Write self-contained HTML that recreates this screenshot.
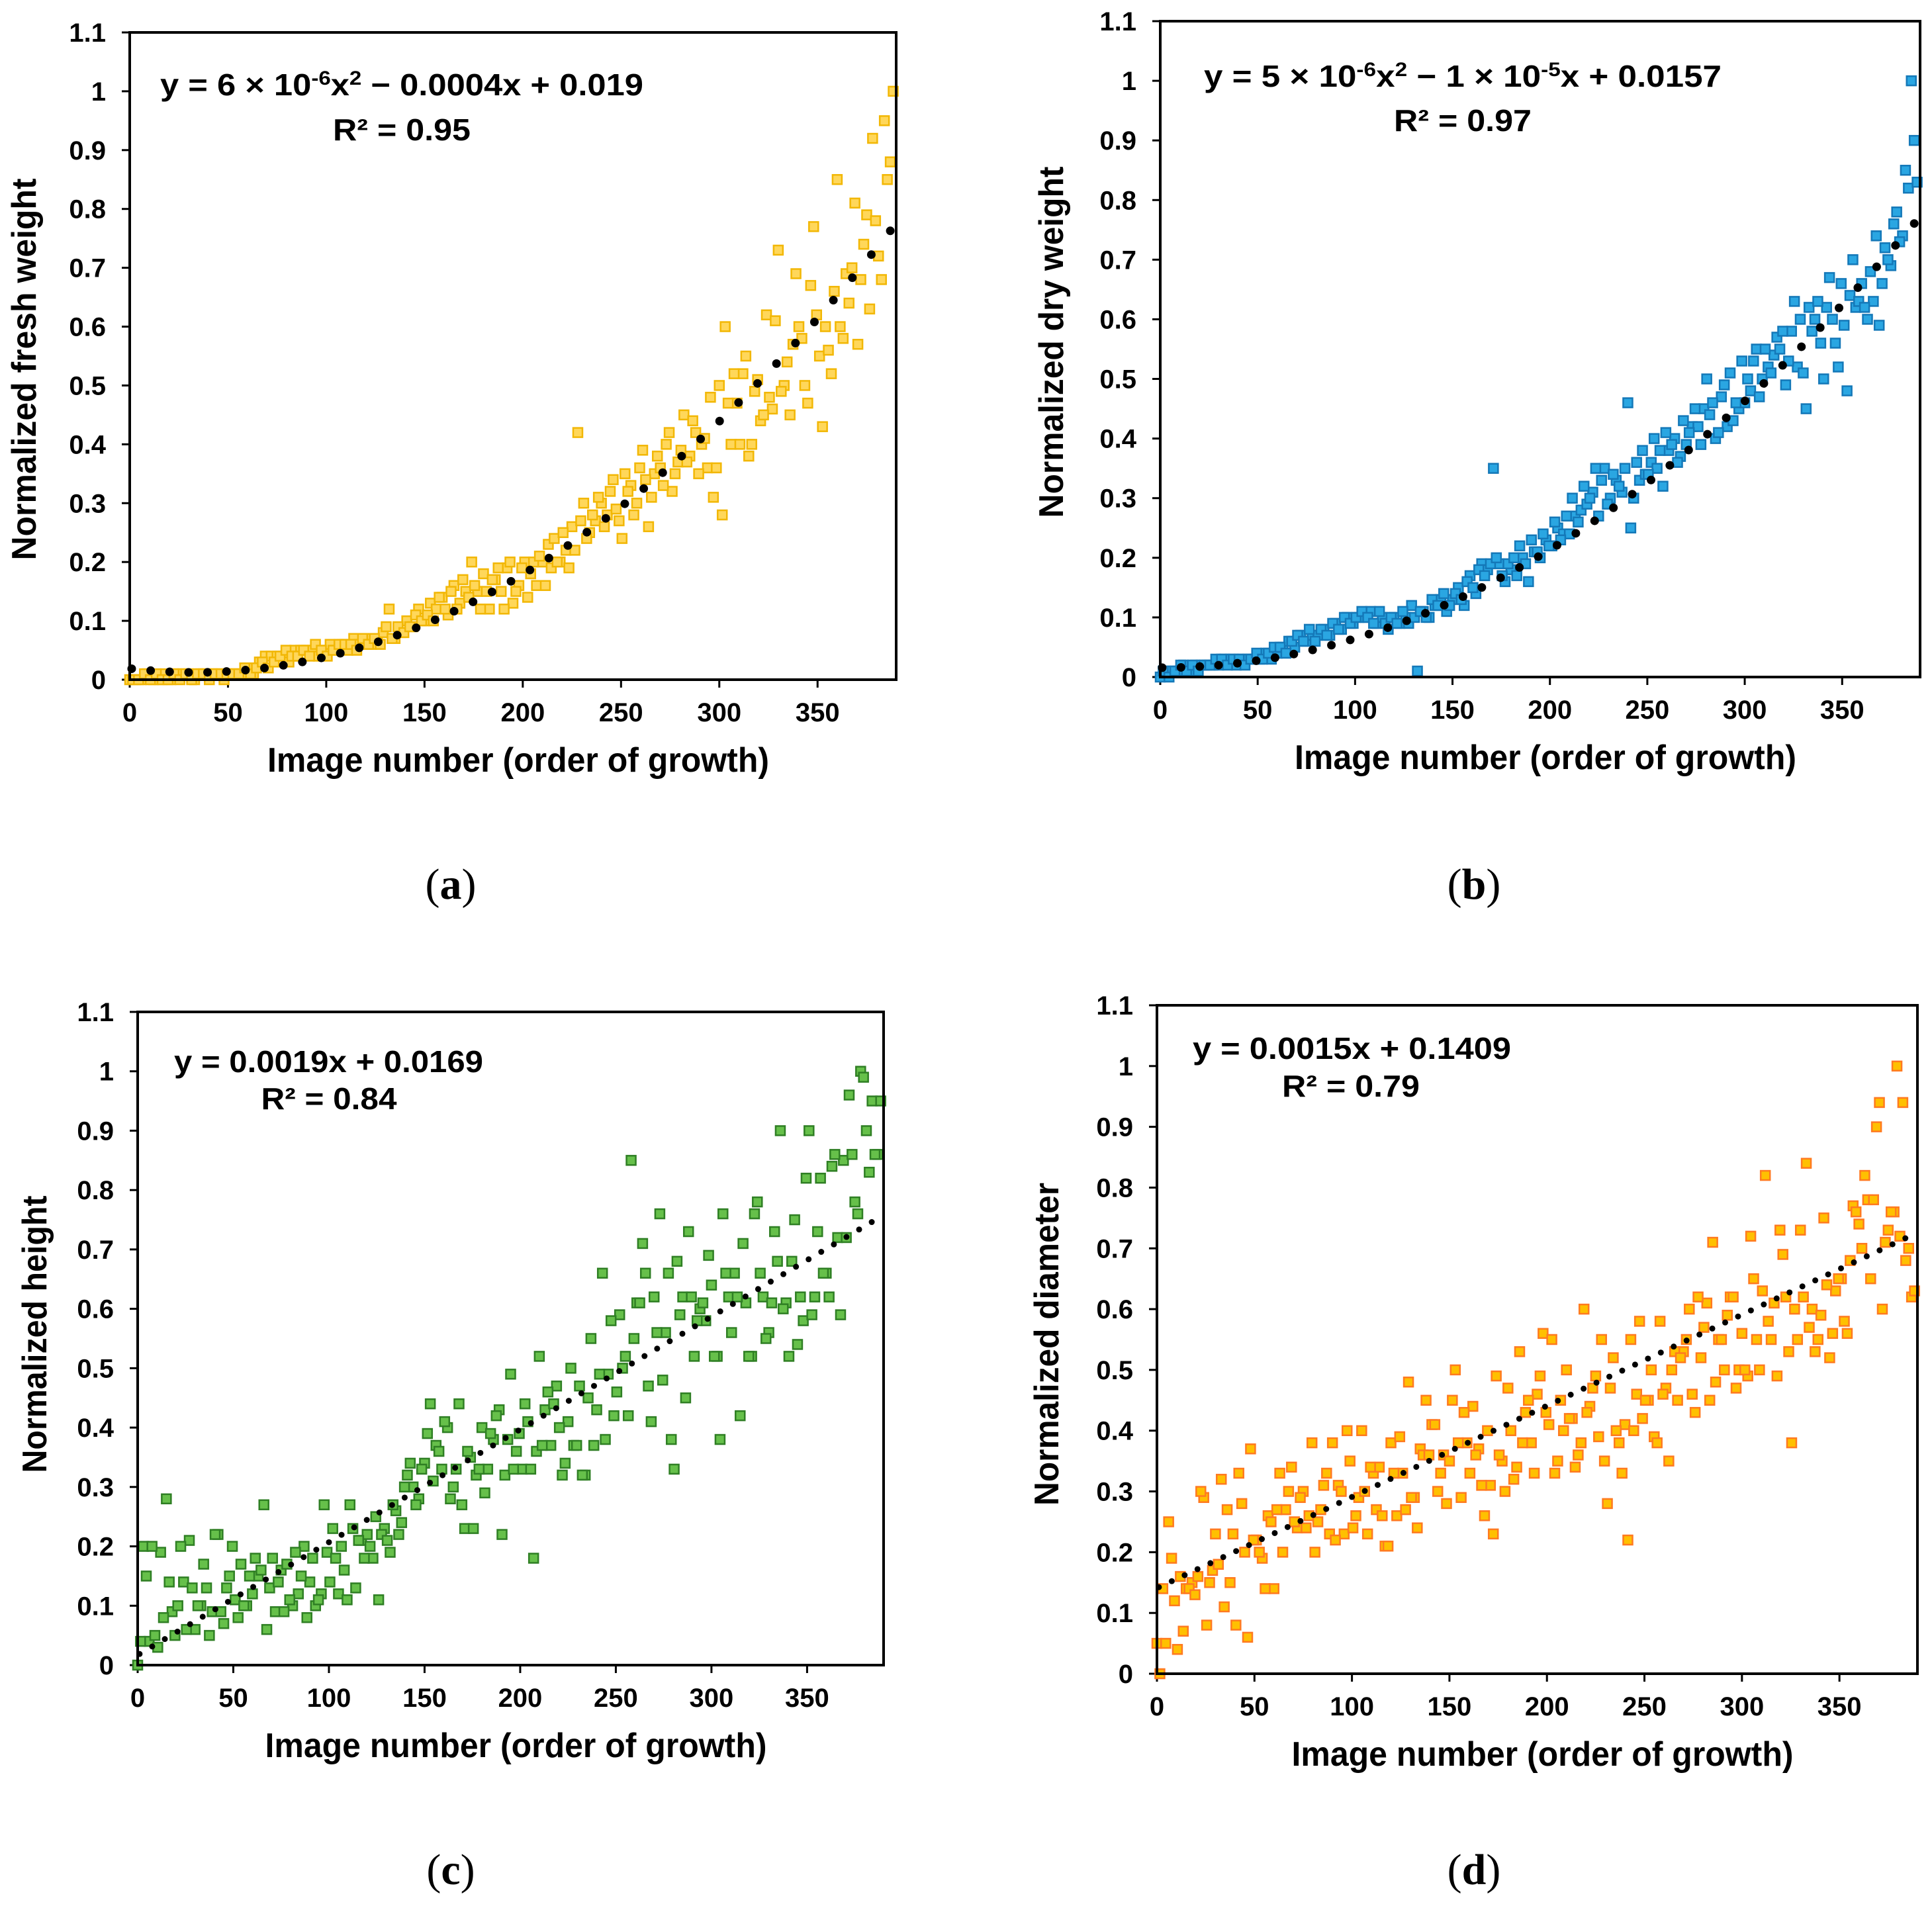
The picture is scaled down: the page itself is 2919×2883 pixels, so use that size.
<!DOCTYPE html>
<html>
<head>
<meta charset="utf-8">
<style>
  html, body { margin: 0; padding: 0; background: #ffffff; }
  svg { display: block; }
  text { font-family: "Liberation Sans", Arial, sans-serif; }
</style>
</head>
<body>
<svg id="fig" width="2919" height="2883" viewBox="0 0 2919 2883" xmlns="http://www.w3.org/2000/svg">
  <rect x="0" y="0" width="2919" height="2883" fill="#ffffff"/>
  <text x="242" y="144" font-size="46" font-weight="bold" textLength="730" lengthAdjust="spacingAndGlyphs">y = 6 × 10<tspan baseline-shift="super" font-size="30">-6</tspan>x<tspan baseline-shift="super" font-size="30">2</tspan> − 0.0004x + 0.019</text>
  <text x="607" y="212" font-size="46" font-weight="bold" text-anchor="middle" textLength="208" lengthAdjust="spacingAndGlyphs">R² = 0.95</text>
  <text x="1819" y="131" font-size="46" font-weight="bold" textLength="782" lengthAdjust="spacingAndGlyphs">y = 5 × 10<tspan baseline-shift="super" font-size="30">-6</tspan>x<tspan baseline-shift="super" font-size="30">2</tspan> − 1 × 10<tspan baseline-shift="super" font-size="30">-5</tspan>x + 0.0157</text>
  <text x="2210" y="198" font-size="46" font-weight="bold" text-anchor="middle" textLength="208" lengthAdjust="spacingAndGlyphs">R² = 0.97</text>
  <text x="263" y="1620" font-size="46" font-weight="bold" textLength="467" lengthAdjust="spacingAndGlyphs">y = 0.0019x + 0.0169</text>
  <text x="497" y="1676" font-size="46" font-weight="bold" text-anchor="middle" textLength="205" lengthAdjust="spacingAndGlyphs">R² = 0.84</text>
  <text x="1802" y="1600" font-size="46" font-weight="bold" textLength="481" lengthAdjust="spacingAndGlyphs">y = 0.0015x + 0.1409</text>
  <text x="2041" y="1657" font-size="46" font-weight="bold" text-anchor="middle" textLength="208" lengthAdjust="spacingAndGlyphs">R² = 0.79</text>
  <text x="681" y="1358" font-size="66" text-anchor="middle" style="font-family:'Liberation Serif',serif">(<tspan font-weight="bold">a</tspan>)</text>
  <text x="2227" y="1358" font-size="66" text-anchor="middle" style="font-family:'Liberation Serif',serif">(<tspan font-weight="bold">b</tspan>)</text>
  <text x="681" y="2847" font-size="66" text-anchor="middle" style="font-family:'Liberation Serif',serif">(<tspan font-weight="bold">c</tspan>)</text>
  <text x="2227" y="2847" font-size="66" text-anchor="middle" style="font-family:'Liberation Serif',serif">(<tspan font-weight="bold">d</tspan>)</text>
</svg>
<script>
const imageNumbers = [0,3,6,9,12,15,18,21,24,27,30,33,36,39,42,45,48,51,54,57,60,63,66,69,72,75,78,81,84,87,90,93,96,99,102,105,108,111,114,117,120,123,126,129,132,135,138,141,144,147,150,153,156,159,162,165,168,171,174,177,180,183,186,189,192,195,198,201,204,207,210,213,216,219,222,225,228,231,234,237,240,243,246,249,252,255,258,261,264,267,270,273,276,279,282,285,288,291,294,297,300,303,306,309,312,315,318,321,324,327,330,333,336,339,342,345,348,351,354,357,360,363,366,369,372,375,378,381,384,387];
const yTickLabels = ["0","0.1","0.2","0.3","0.4","0.5","0.6","0.7","0.8","0.9","1","1.1"];
const yTickValues = [0,0.1,0.2,0.3,0.4,0.5,0.6,0.7,0.8,0.9,1,1.1];
const xTickValues = [0,50,100,150,200,250,300,350];
const xTickLabels = ["0","50","100","150","200","250","300","350"];

const freshA = [0,0,0,0.01,0,0,0.01,0,0.01,0.01, 0.01,0,0.01,0.01,0.01,0.01,0,0.01,0.01,0.01, 0.02,0.01,0.03,0.04,0.04,0.04,0.04,0.03,0.05,0.05, 0.05,0.05,0.04,0.05,0.06,0.05,0.06,0.05,0.07,0.06, 0.07,0.06,0.07,0.08,0.12,0.07,0.08,0.1,0.09,0.12, 0.1,0.13,0.12,0.14,0.11,0.16,0.13,0.15,0.2,0.15, 0.18,0.12,0.17,0.15,0.19,0.13,0.16,0.2,0.18,0.16, 0.2,0.23,0.24,0.2,0.22,0.26,0.42,0.3,0.25,0.27, 0.3,0.28,0.34,0.27,0.35,0.33,0.3,0.39,0.26,0.35, 0.36,0.4,0.32,0.37,0.45,0.38,0.42,0.4,0.36,0.31, 0.5,0.6,0.4,0.47,0.52,0.38,0.49,0.44,0.62,0.46, 0.73,0.5,0.45,0.69,0.58,0.47,0.77,0.55,0.6,0.52, 0.85,0.58,0.64,0.81,0.68,0.79,0.92,0.72,0.95,0.88];
const freshB = [0,0,0.01,0,0.01,0,0,0.01,0,0.01, 0,0.01,0.01,0,0.01,0.01,0.01,0.01,0.01,0.02, 0.01,0.02,0.03,0.02,0.03,0.04,0.05,0.04,0.04,0.05, 0.04,0.06,0.05,0.04,0.05,0.06,0.06,0.06,0.05,0.07, 0.06,0.07,0.06,0.09,0.07,0.09,0.08,0.09,0.11,0.1, 0.11,0.1,0.14,0.12,0.15,0.12,0.17,0.14,0.16,0.12, 0.15,0.17,0.19,0.12,0.2,0.15,0.19,0.14,0.2,0.21, 0.16,0.19,0.2,0.25,0.19,0.22,0.27,0.24,0.28,0.31, 0.26,0.32,0.29,0.24,0.32,0.28,0.36,0.34,0.31,0.38, 0.33,0.42,0.35,0.39,0.37,0.44,0.35,0.41,0.48,0.36, 0.28,0.47,0.52,0.4,0.55,0.4,0.51,0.45,0.48,0.61, 0.49,0.54,0.57,0.6,0.5,0.67,0.62,0.43,0.56,0.66, 0.6,0.69,0.7,0.57,0.74,0.63,0.78,0.68,0.85,1.0];
const dryA = [0,0.01,0.01,0.01,0.02,0.01,0.02,0.02,0.02,0.02, 0.02,0.03,0.03,0.02,0.03,0.03,0.03,0.03,0.04,0.03, 0.04,0.05,0.06,0.05,0.07,0.06,0.07,0.07,0.08,0.07, 0.09,0.08,0.1,0.09,0.1,0.1,0.11,0.09,0.1,0.08, 0.1,0.09,0.1,0.12,0.01,0.11,0.1,0.12,0.13,0.11, 0.13,0.15,0.12,0.17,0.14,0.19,0.18,0.35,0.19,0.16, 0.18,0.17,0.2,0.16,0.21,0.2,0.23,0.22,0.25,0.24, 0.24,0.27,0.28,0.29,0.31,0.27,0.35,0.3,0.33,0.31, 0.46,0.3,0.33,0.34,0.36,0.35,0.32,0.38,0.4,0.37, 0.39,0.42,0.42,0.45,0.44,0.4,0.47,0.42,0.43,0.45, 0.46,0.48,0.55,0.5,0.52,0.54,0.55,0.49,0.58,0.52, 0.51,0.62,0.6,0.56,0.62,0.6,0.52,0.59,0.64,0.62, 0.66,0.6,0.63,0.59,0.72,0.69,0.78,0.74,0.82,0.9];
const dryB = [0.01,0,0.01,0.02,0.01,0.02,0.01,0.02,0.02,0.03, 0.03,0.02,0.03,0.03,0.02,0.03,0.04,0.03,0.04,0.05, 0.05,0.04,0.06,0.07,0.06,0.08,0.06,0.08,0.07,0.09, 0.08,0.1,0.09,0.1,0.11,0.1,0.09,0.11,0.09,0.1, 0.09,0.11,0.09,0.1,0.11,0.1,0.13,0.12,0.14,0.12, 0.14,0.13,0.16,0.15,0.18,0.17,0.19,0.2,0.17,0.19, 0.2,0.22,0.19,0.23,0.21,0.24,0.22,0.26,0.23,0.27, 0.3,0.26,0.32,0.3,0.35,0.33,0.29,0.34,0.32,0.35, 0.25,0.36,0.38,0.34,0.4,0.38,0.41,0.39,0.36,0.43, 0.41,0.45,0.39,0.5,0.46,0.41,0.49,0.51,0.46,0.53, 0.5,0.53,0.47,0.55,0.51,0.57,0.58,0.53,0.63,0.6, 0.45,0.58,0.63,0.5,0.67,0.56,0.66,0.48,0.7,0.63, 0.62,0.68,0.74,0.66,0.7,0.76,0.73,0.85,1.0,0.83];
const heightA = [0,0.2,0.04,0.05,0.19,0.28,0.09,0.1,0.14,0.21, 0.06,0.1,0.13,0.09,0.22,0.07,0.15,0.11,0.17,0.1, 0.12,0.15,0.27,0.13,0.09,0.16,0.17,0.1,0.12,0.2, 0.14,0.1,0.12,0.19,0.23,0.12,0.16,0.27,0.13,0.21, 0.22,0.18,0.11,0.23,0.19,0.26,0.24,0.32,0.3,0.28, 0.34,0.44,0.37,0.33,0.4,0.3,0.44,0.23,0.35,0.32, 0.4,0.33,0.38,0.43,0.32,0.49,0.36,0.33,0.41,0.18, 0.52,0.43,0.37,0.47,0.32,0.41,0.37,0.47,0.32,0.55, 0.43,0.66,0.49,0.42,0.59,0.52,0.85,0.61,0.71,0.47, 0.62,0.76,0.56,0.38,0.68,0.62,0.73,0.52,0.6,0.58, 0.64,0.52,0.76,0.62,0.66,0.42,0.61,0.52,0.78,0.62, 0.56,0.73,0.9,0.61,0.68,0.54,0.58,0.9,0.62,0.82, 0.66,0.84,0.72,0.85,0.96,0.78,1.0,0.9,0.95,0.86];
const heightB = [0.04,0.15,0.2,0.03,0.08,0.14,0.05,0.2,0.06,0.13, 0.1,0.17,0.05,0.22,0.09,0.13,0.2,0.08,0.1,0.15, 0.18,0.16,0.06,0.18,0.14,0.09,0.11,0.19,0.15,0.08, 0.18,0.11,0.27,0.14,0.18,0.2,0.11,0.23,0.21,0.18, 0.2,0.25,0.22,0.21,0.27,0.22,0.3,0.34,0.27,0.33, 0.39,0.31,0.36,0.41,0.28,0.33,0.27,0.36,0.23,0.33, 0.29,0.39,0.42,0.22,0.38,0.33,0.39,0.44,0.33,0.36, 0.37,0.46,0.44,0.4,0.34,0.5,0.37,0.32,0.45,0.37, 0.49,0.38,0.58,0.46,0.5,0.42,0.55,0.61,0.66,0.41, 0.56,0.48,0.66,0.33,0.59,0.45,0.62,0.58,0.61,0.69, 0.52,0.38,0.66,0.56,0.62,0.71,0.52,0.76,0.66,0.55, 0.61,0.68,0.6,0.52,0.75,0.62,0.82,0.59,0.73,0.66, 0.62,0.86,0.59,0.72,0.86,0.76,0.99,0.83,0.86,0.95];
const diameterA = [0.05,0.14,0.25,0.12,0.16,0.14,0.15,0.16,0.29,0.15, 0.23,0.32,0.27,0.23,0.33,0.2,0.37,0.22,0.19,0.26, 0.14,0.33,0.27,0.34,0.24,0.3,0.26,0.2,0.27,0.33, 0.38,0.31,0.23,0.35,0.26,0.4,0.23,0.33,0.34,0.21, 0.38,0.26,0.33,0.48,0.29,0.37,0.45,0.41,0.3,0.36, 0.35,0.5,0.29,0.38,0.44,0.37,0.26,0.31,0.49,0.35, 0.47,0.32,0.53,0.43,0.38,0.46,0.56,0.41,0.33,0.45, 0.5,0.42,0.36,0.6,0.44,0.49,0.55,0.28,0.52,0.38, 0.41,0.55,0.46,0.42,0.45,0.39,0.58,0.47,0.5,0.45, 0.53,0.6,0.43,0.52,0.61,0.71,0.55,0.5,0.62,0.47, 0.56,0.49,0.65,0.5,0.82,0.55,0.49,0.69,0.53,0.6, 0.73,0.84,0.6,0.55,0.75,0.52,0.63,0.65,0.56,0.77, 0.74,0.82,0.65,0.9,0.6,0.73,0.76,0.72,0.68,0.62];
const diameterB = [0,0.05,0.19,0.04,0.07,0.14,0.13,0.3,0.08,0.17, 0.18,0.11,0.15,0.08,0.28,0.06,0.22,0.2,0.14,0.25, 0.27,0.2,0.3,0.25,0.29,0.24,0.38,0.25,0.31,0.23, 0.22,0.3,0.4,0.24,0.29,0.3,0.34,0.27,0.26,0.21, 0.33,0.39,0.27,0.29,0.24,0.36,0.36,0.41,0.33,0.28, 0.45,0.38,0.43,0.33,0.36,0.31,0.4,0.23,0.36,0.3, 0.4,0.34,0.38,0.45,0.33,0.49,0.43,0.55,0.35,0.4, 0.42,0.34,0.38,0.43,0.47,0.39,0.35,0.47,0.4,0.33, 0.22,0.4,0.58,0.45,0.5,0.38,0.46,0.35,0.53,0.52, 0.55,0.46,0.62,0.57,0.45,0.48,0.55,0.59,0.62,0.5, 0.5,0.72,0.55,0.63,0.58,0.61,0.73,0.62,0.38,0.55, 0.62,0.57,0.53,0.59,0.64,0.56,0.65,0.58,0.68,0.76, 0.7,0.78,0.78,0.94,0.71,0.76,1.0,0.94,0.7,0.63];

const freshFit = [6e-6, -0.0004, 0.019];
const dryFit = [5e-6, -1e-5, 0.0157];
const heightFit = [0, 0.0019, 0.0169];
const diameterFit = [0, 0.0015, 0.1409];

const NS = "http://www.w3.org/2000/svg";
const svg = document.getElementById("fig");
function mk(tag, attrs, parent) {
  const e = document.createElementNS(NS, tag);
  for (const k in attrs) e.setAttribute(k, attrs[k]);
  (parent || svg).appendChild(e);
  return e;
}

function drawPanel(p, seriesA, seriesB, fit) {
  const g = mk("g", {});
  
  
  const xMax = 390, yMax = 1.1;
  const sx = v => p.left + (v / xMax) * (p.right - p.left);
  const sy = v => p.bottom - (v / yMax) * (p.bottom - p.top);

  for (let i = 0; i < yTickValues.length; i++) {
    const y = sy(yTickValues[i]);
    const t = mk("line", {x1: p.left - 12, x2: p.left, y1: y, y2: y, stroke: "#000", "stroke-width": 3}, g);
    
    
    const l = mk("text", {x: p.left - 36, y: y + 14, "font-size": 40, "font-weight": "bold", "text-anchor": "end"}, g);
    l.textContent = yTickLabels[i];
    
    
  }
  for (let i = 0; i < xTickValues.length; i++) {
    const x = sx(xTickValues[i]);
    const t = mk("line", {x1: x, x2: x, y1: p.bottom, y2: p.bottom + 12, stroke: "#000", "stroke-width": 3}, g);
    
    
    const l = mk("text", {x: x, y: p.bottom + 63, "font-size": 40, "font-weight": "bold", "text-anchor": "middle"}, g);
    l.textContent = xTickLabels[i];
    
    
  }
  const drawSeries = (vals, off) => {
    for (let i = 0; i < vals.length; i++) {
      const cx = sx(imageNumbers[i] + off), cy = sy(vals[i]);
      const r = mk("rect", {x: cx - 7, y: cy - 7, width: 14, height: 14, fill: p.fill, stroke: p.stroke, "stroke-width": 2.5}, g);
      
      
    }
  };
  drawSeries(seriesA, 0);
  drawSeries(seriesB, 1.5);
  for (let x = 1; x <= 387; x += p.trendStep) {
    const v = fit[0] * x * x + fit[1] * x + fit[2];
    const c = mk("circle", {cx: sx(x), cy: sy(v), r: p.dotR, fill: "#000"}, g);
    
    
  }
  const f = mk("rect", {x: p.left, y: p.top, width: p.right - p.left, height: p.bottom - p.top, fill: "none", stroke: "#000", "stroke-width": 4}, g);
  
  
  const xt = mk("text", {x: (p.left + p.right) / 2 + 8, y: p.bottom + p.xtGap, "font-size": 52, "font-weight": "bold", "text-anchor": "middle", textLength: 758, lengthAdjust: "spacingAndGlyphs"}, g);
  xt.textContent = "Image number (order of growth)";
  
  
  const yt = mk("text", {x: 0, y: 0, "font-size": 52, "font-weight": "bold", "text-anchor": "middle", textLength: p.ytLen, lengthAdjust: "spacingAndGlyphs", transform: `translate(${p.ytX},${p.ytY}) rotate(-90)`}, g);
  yt.textContent = p.ytText;
  
  
}

drawPanel({id: "a", left: 196, right: 1354, top: 49, bottom: 1027, fill: "#FFD75A", stroke: "#F2B705", trendStep: 9.65, dotR: 6.5,
  xtGap: 139, ytX: 54, ytY: 558, ytLen: 577, ytText: "Normalized fresh weight"}, freshA, freshB, freshFit);
drawPanel({id: "b", left: 1753, right: 2901, top: 32, bottom: 1023, fill: "#2AA6E2", stroke: "#1478B8", trendStep: 9.65, dotR: 6.5,
  xtGap: 139, ytX: 1606, ytY: 517, ytLen: 531, ytText: "Normalized dry weight"}, dryA, dryB, dryFit);
drawPanel({id: "c", left: 208, right: 1335, top: 1529, bottom: 2516, fill: "#66C04A", stroke: "#2F7F24", trendStep: 6.6, dotR: 4.5,
  xtGap: 139, ytX: 70, ytY: 2016, ytLen: 419, ytText: "Normalized height"}, heightA, heightB, heightFit);
drawPanel({id: "d", left: 1748, right: 2897, top: 1519, bottom: 2529, fill: "#FFC000", stroke: "#FF7A20", trendStep: 6.6, dotR: 4.5,
  xtGap: 139, ytX: 1599, ytY: 2031, ytLen: 488, ytText: "Normalized diameter"}, diameterA, diameterB, diameterFit);
</script>
</body>
</html>
